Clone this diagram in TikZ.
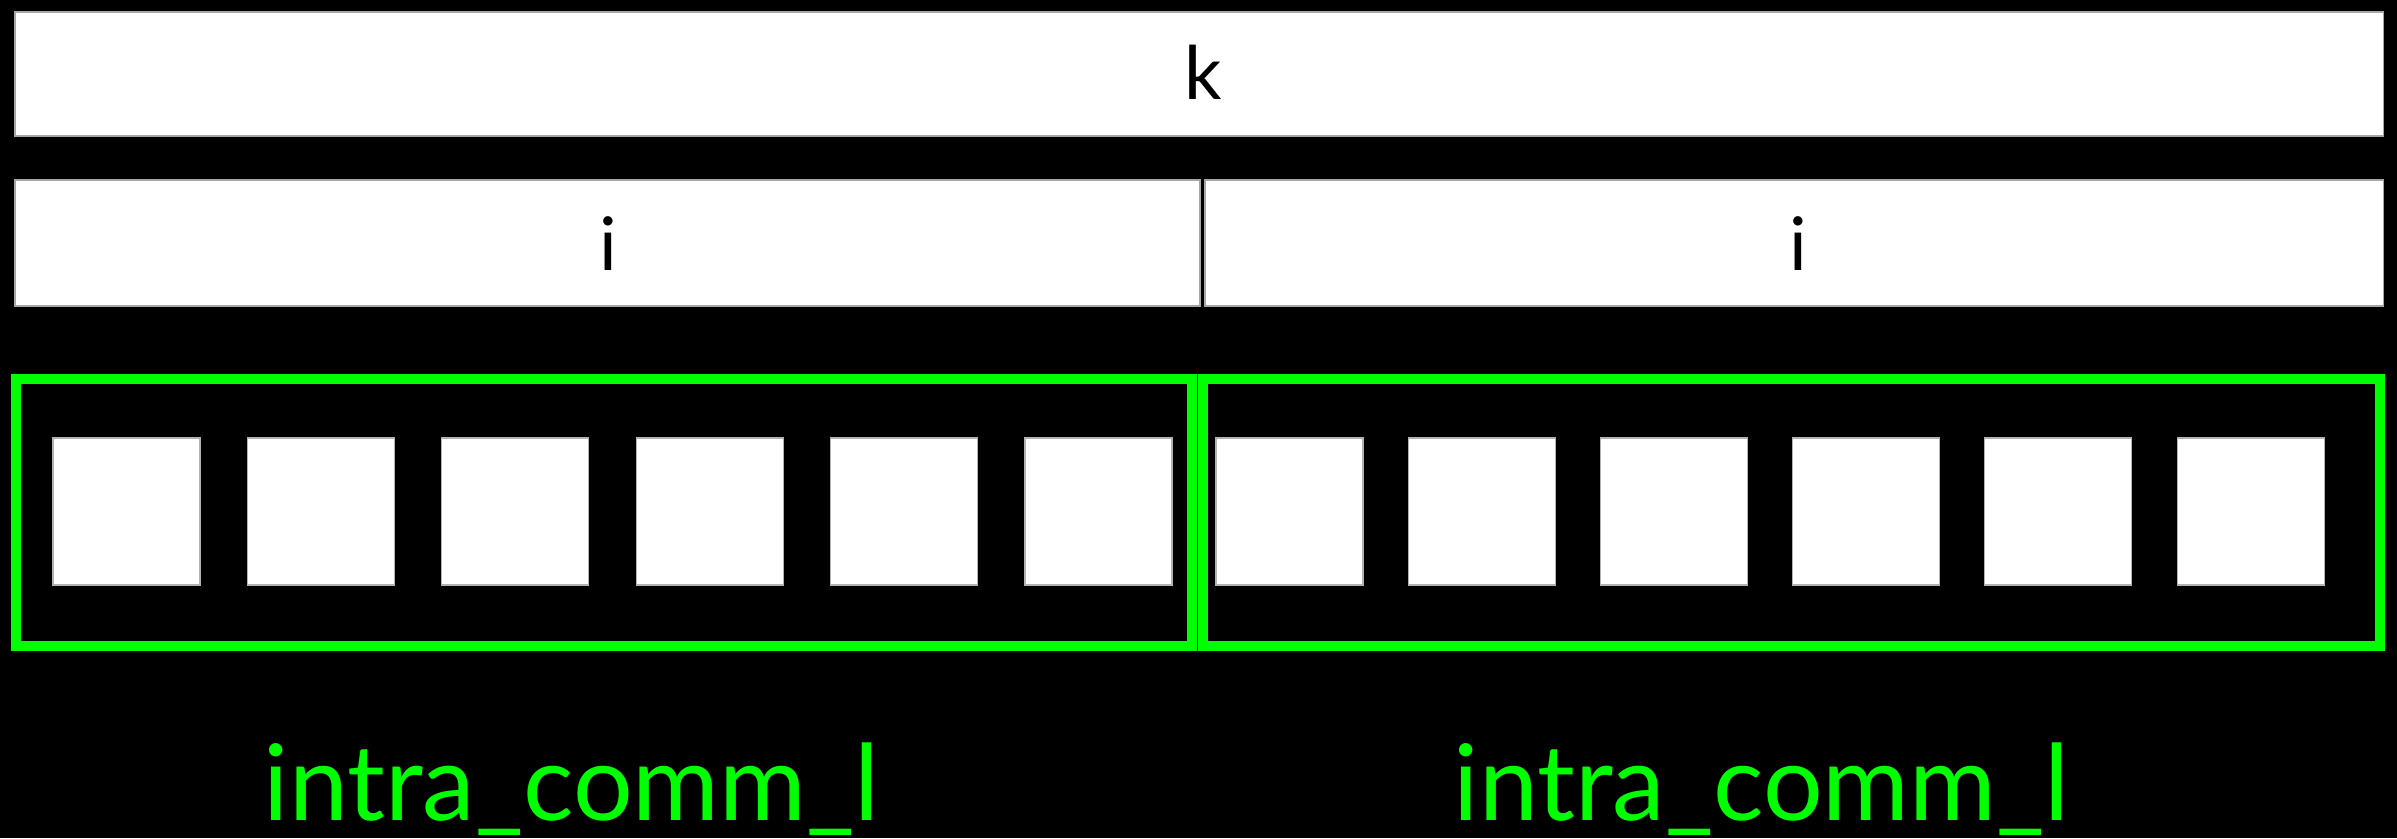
\documentclass[tikz,border=0pt]{standalone}
\usepackage{fontspec}
\setmainfont{Lato}
\usepackage{tikz}
\usepackage{xcolor}
\definecolor{commgreen}{RGB}{0,255,0}

\begin{document}
\begin{tikzpicture}[x=0.01cm,y=-0.01cm,
  bar/.style={fill=white,draw=gray!70,line width=0.3pt},
  cell/.style={fill=white,draw=gray!60,line width=0.3pt},
  commbox/.style={draw=commgreen,line width=0.1cm},
  rank/.style={anchor=base,font=\fontsize{21}{25}\selectfont,text=black,inner sep=0pt},
  commname/.style={anchor=base west,font=\fontsize{30}{36}\selectfont,text=commgreen,inner sep=0pt}]
\fill[black] (0,0) rectangle (2397,838);
\useasboundingbox (0,0) rectangle (2397,838);

% k and the two i halves
\filldraw[bar] (15,12) rectangle (2383,136);
\node[rank] (k) at (1203,99) {k};
\filldraw[bar] (15,180) rectangle (1200,306);
\filldraw[bar] (1205,180) rectangle (2383,306);
\node[rank] (i1) at (608,270) {i};
\node[rank] (i2) at (1798,270) {i};

% processes of each half
\foreach \n in {0,...,5}
  \filldraw[cell] ({53+194.4*\n},438) rectangle ({200+194.4*\n},585);
\foreach \n in {0,...,5}
  \filldraw[cell] ({1216+192.2*\n},438) rectangle ({1363+192.2*\n},585);

\draw[commbox] (16,379) rectangle (1192,646);
\draw[commbox] (1203,379) rectangle (2380,646);

\node[commname] (c1) at (263,820) {intra\_comm\_l};
\node[commname] (c2) at (1453,820) {intra\_comm\_l};

\end{tikzpicture}
\end{document}
